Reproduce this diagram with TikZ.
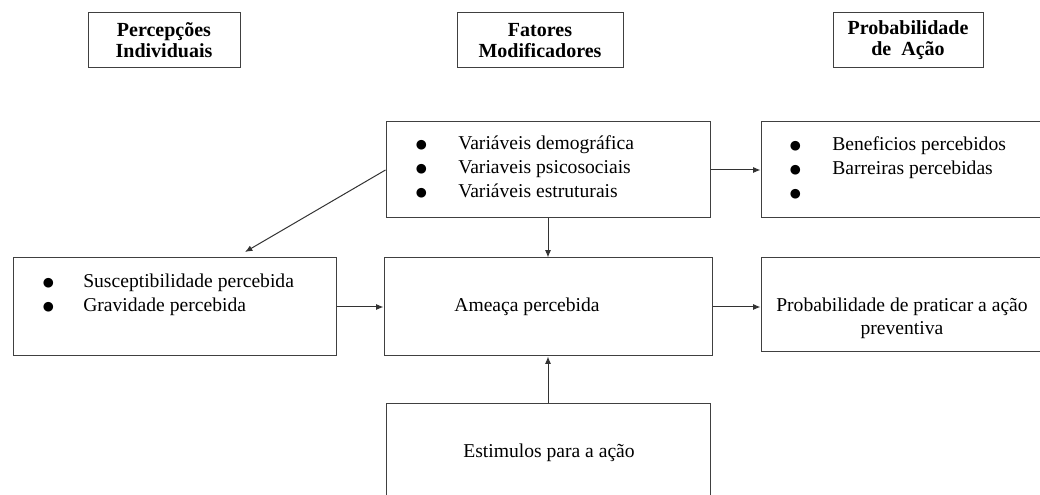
\documentclass[tikz,border=0pt]{standalone}
\usepackage{fontspec}
\setmainfont{Liberation Serif}
\newfontfamily\bulletfont{DejaVu Sans}
\newcommand{\blt}{\makebox[8pt][c]{\raisebox{0.9pt}{\bulletfont\fontsize{9.5}{9.5}\selectfont ●}}}
\usetikzlibrary{arrows.meta, positioning}

\begin{document}
\begin{tikzpicture}[
    x=0.75pt, y=-0.75pt,
    box/.style={rectangle, draw=black!75, line width=0.75pt, inner sep=0pt},
    head/.style={box, minimum height=41.25pt, align=center, font=\fontsize{15}{15.75}\selectfont\bfseries},
    txt/.style={inner sep=0pt, font=\fontsize{14.7}{18}\selectfont},
    link/.style={draw=black!80, line width=0.75pt, -{Latex[length=5.5pt, width=4.5pt]}}
]
\useasboundingbox (0,0) rectangle (1040,495);
\clip (0,0) rectangle (1040,495);

% Column headers
\node[head, minimum width=114pt] (perc) at (164,40.5) {Percepções\\Individuais};
\node[head, minimum width=124.5pt] (fat) at (540,40.5) {Fatores\\Modificadores};
\node[head, minimum width=112.5pt] (prob) at (908,40.5) {Probabilidade\\de\ \ Ação};

% Boxes
\node[box, minimum width=243pt, minimum height=72pt] (mod) at (548,170) {};
\node[box, minimum width=213pt, minimum height=72pt] (ben) at (903,170) {};
\node[box, minimum width=242.25pt, minimum height=73.5pt] (sus) at (174.5,307) {};
\node[box, minimum width=246pt, minimum height=73.5pt] (ame) at (548,307) {};
\node[box, minimum width=213pt, minimum height=70.5pt] (pra) at (903,305) {};
\node[box, minimum width=243pt, minimum height=75pt] (est) at (548,454) {};

% Box texts
\node[txt, anchor=west] (modtxt) at (415.7,169) {\begin{tabular}{@{}l@{\hspace{23.75pt}}l@{}}
    \blt & Variáveis demográfica\\
    \blt & Variaveis psicosociais\\
    \blt & Variáveis estruturais
\end{tabular}};
\node[txt, anchor=west] (bentxt) at (789.7,169.5) {\begin{tabular}{@{}l@{\hspace{23.75pt}}l@{}}
    \blt & Beneficios percebidos\\
    \blt & Barreiras percebidas\\
    \blt &
\end{tabular}};
\node[txt, anchor=west] (sustxt) at (42.7,294.5) {\begin{tabular}{@{}l@{\hspace{22.25pt}}l@{}}
    \blt & Susceptibilidade percebida\\
    \blt & Gravidade percebida
\end{tabular}};
\node[txt] (ametxt) at (527,307) {Ameaça percebida};
\node[txt, align=center, font=\fontsize{14.7}{17}\selectfont] (pratxt) at (902,318.5) {Probabilidade de praticar a ação\\preventiva};
\node[txt] (esttxt) at (549,453) {Estimulos para a ação};

% Connectors
\coordinate (susin) at (245,252);
\draw[link] (mod.west) -- (susin);
\draw[link] (mod.south) -- (ame.north);
\draw[link] (mod.east) -- (ben.west);
\draw[link] (sus.east) -- (ame.west);
\draw[link] (ame.east) -- (ame.east -| pra.west);
\draw[link] (est.north) -- (ame.south);

\end{tikzpicture}
\end{document}
